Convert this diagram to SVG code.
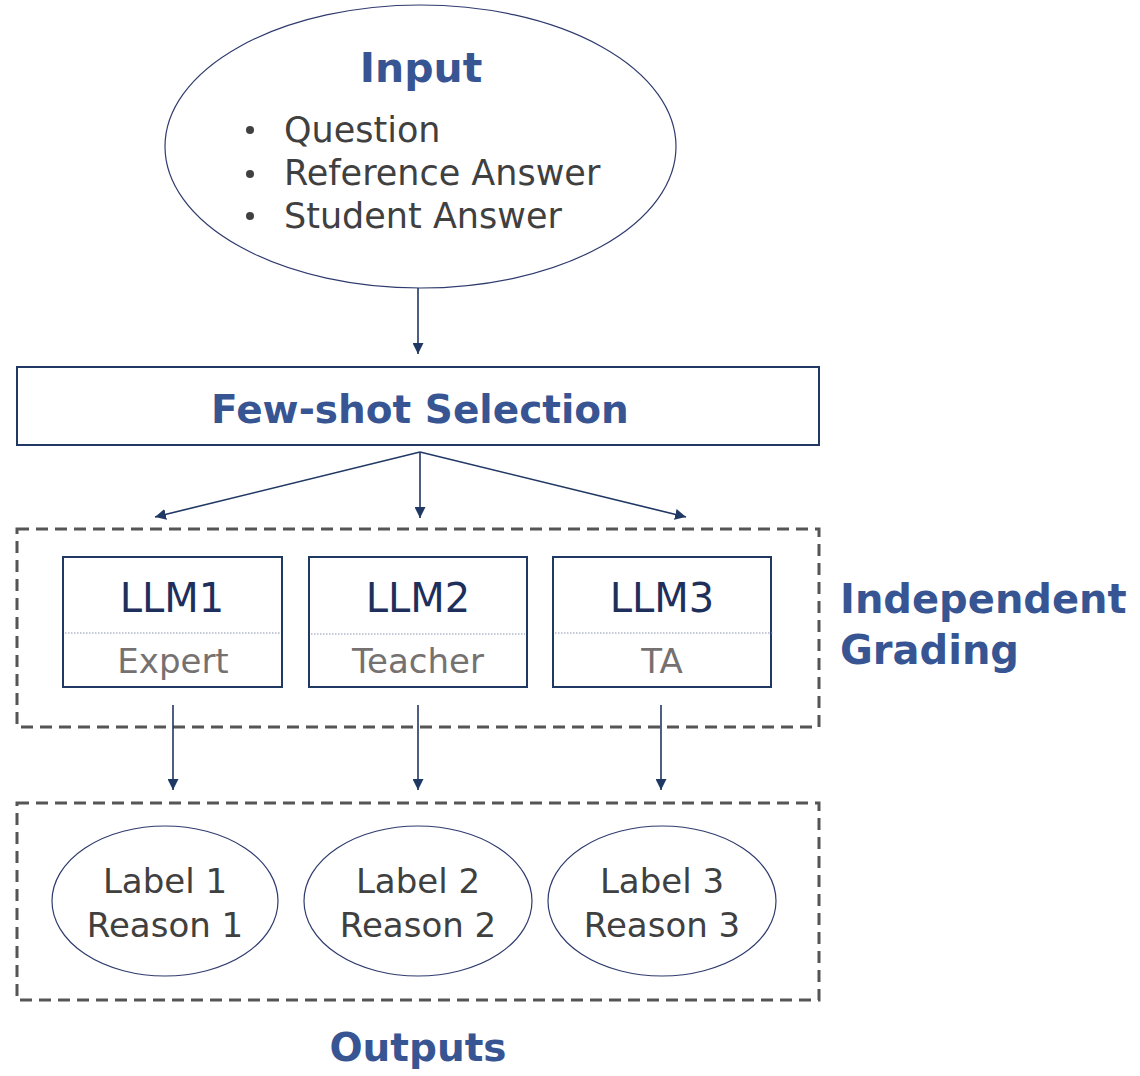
<svg xmlns="http://www.w3.org/2000/svg" width="1140" height="1076" viewBox="0 0 1140 1076">
<style>
.title{font-family:"DejaVu Sans",Verdana,sans-serif;font-weight:bold;fill:#385593;}
.body{font-family:"DejaVu Sans",Verdana,sans-serif;fill:#404040;font-size:34px;}
.list{font-family:"DejaVu Sans",Verdana,sans-serif;fill:#404040;font-size:35px;}
.llm{font-family:"DejaVu Sans",Verdana,sans-serif;fill:#1f2f5c;font-size:40px;text-anchor:middle;}
.role{font-family:"DejaVu Sans",Verdana,sans-serif;fill:#767171;font-size:34px;text-anchor:middle;}
.box{fill:#fff;stroke:#203864;stroke-width:2;}
.ell{fill:#fff;stroke:#2f3b6e;stroke-width:1.2;}
.dash{fill:none;stroke:#555;stroke-width:3;stroke-dasharray:12 7;}
.div{stroke:#8a93b0;stroke-width:1.2;stroke-dasharray:1.5 1.5;}
.conn{stroke:#203864;stroke-width:1.6;fill:none;marker-end:url(#ah);}
</style>
<defs>
<marker id="ah" viewBox="0 0 10 10" refX="10" refY="5" markerWidth="11" markerHeight="11" markerUnits="userSpaceOnUse" orient="auto">
<path d="M0,0 L10,5 L0,10 z" fill="#203864"/>
</marker>
</defs>
<rect width="1140" height="1076" fill="#fff"/>

<g id="grading-group">
<rect class="dash" x="17" y="529" width="802" height="198"/>
<text class="title" x="840" y="613" font-size="40">Independent</text>
<text class="title" x="840" y="664" font-size="40">Grading</text>
</g>
<g id="outputs-group">
<rect class="dash" x="17" y="803" width="802" height="197"/>
<text class="title" x="418" y="1061" font-size="39" text-anchor="middle">Outputs</text>
</g>

<g id="input">
<ellipse class="ell" cx="420.5" cy="146.5" rx="255.5" ry="141.5"/>
<text class="title" x="421" y="82" font-size="41" text-anchor="middle">Input</text>
<circle cx="250" cy="130" r="4" fill="#404040"/>
<circle cx="250" cy="174" r="4" fill="#404040"/>
<circle cx="250" cy="216" r="4" fill="#404040"/>
<text class="list" x="284" y="142">Question</text>
<text class="list" x="284" y="185">Reference Answer</text>
<text class="list" x="284" y="228">Student Answer</text>
</g>

<g id="fewshot">
<rect class="box" x="17" y="367" width="802" height="78"/>
<text class="title" x="420" y="423" font-size="39" text-anchor="middle">Few-shot Selection</text>
</g>

<g id="llm1">
<rect class="box" x="63" y="557" width="219" height="130"/>
<line class="div" x1="65" y1="633" x2="280" y2="633"/>
<text class="llm" x="172" y="612">LLM1</text>
<text class="role" x="173" y="673">Expert</text>
</g>
<g id="llm2">
<rect class="box" x="309" y="557" width="218" height="130"/>
<line class="div" x1="311" y1="634" x2="525" y2="634"/>
<text class="llm" x="418" y="612">LLM2</text>
<text class="role" x="418" y="673">Teacher</text>
</g>
<g id="llm3">
<rect class="box" x="553" y="557" width="218" height="130"/>
<line class="div" x1="555" y1="633" x2="773" y2="633"/>
<text class="llm" x="662" y="612">LLM3</text>
<text class="role" x="662" y="673">TA</text>
</g>

<g id="out1">
<ellipse class="ell" cx="165" cy="901" rx="113" ry="75"/>
<text class="body" x="165" y="893" text-anchor="middle">Label 1</text>
<text class="body" x="165" y="937" text-anchor="middle">Reason 1</text>
</g>
<g id="out2">
<ellipse class="ell" cx="418" cy="901" rx="114" ry="75"/>
<text class="body" x="418" y="893" text-anchor="middle">Label 2</text>
<text class="body" x="418" y="937" text-anchor="middle">Reason 2</text>
</g>
<g id="out3">
<ellipse class="ell" cx="662" cy="901" rx="114" ry="75"/>
<text class="body" x="662" y="893" text-anchor="middle">Label 3</text>
<text class="body" x="662" y="937" text-anchor="middle">Reason 3</text>
</g>

<g id="connectors">
<line class="conn" x1="418" y1="288" x2="418" y2="354"/>
<line class="conn" x1="420" y1="452" x2="155" y2="517"/>
<line class="conn" x1="420" y1="452" x2="420" y2="518"/>
<line class="conn" x1="420" y1="452" x2="686" y2="517"/>
<line class="conn" x1="173" y1="705" x2="173" y2="790"/>
<line class="conn" x1="418" y1="705" x2="418" y2="790"/>
<line class="conn" x1="661" y1="705" x2="661" y2="790"/>
</g>
</svg>
